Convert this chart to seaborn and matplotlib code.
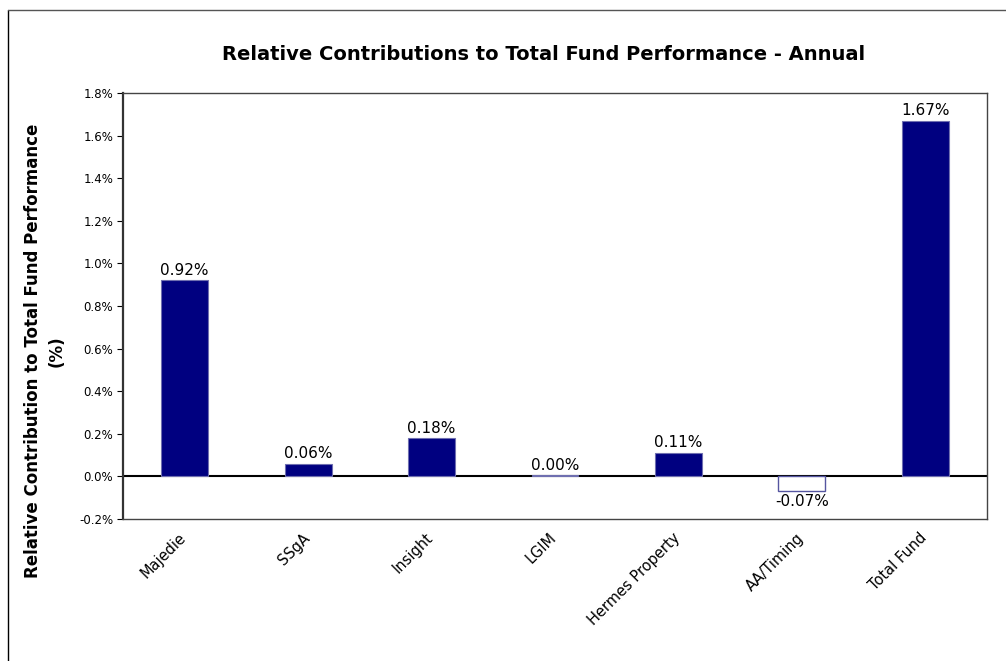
import numpy as np
import pandas as pd
import matplotlib
matplotlib.use("Agg")
import matplotlib.pyplot as plt
import matplotlib.transforms as mtransforms
import seaborn as sns
from matplotlib.lines import Line2D

managers = ["Majedie", "SSgA", "Insight", "LGIM", "Hermes Property", "AA/Timing", "Total Fund"]
contrib = [0.92, 0.06, 0.18, 0.0045, 0.11, -0.07, 1.67]
yticks = [-0.2, 0.0, 0.2, 0.4, 0.6, 0.8, 1.0, 1.2, 1.4, 1.6, 1.8]

dt = pd.DataFrame({"manager": managers, "contrib": contrib})

sns.set_style("white")
plt.rcParams["font.family"] = ["DejaVu Sans"]
plt.rcParams["text.color"] = "black"
plt.rcParams["axes.labelcolor"] = "black"
plt.rcParams["xtick.color"] = "black"
plt.rcParams["ytick.color"] = "black"

fig = plt.figure(figsize=(10.06, 6.61), dpi=100)
ax = fig.add_axes([123/1006, 1-519/661, 864/1006, 426/661])

sns.barplot(data=dt, x="manager", y="contrib", color="#000080", width=0.38,
            saturation=1, ax=ax, edgecolor="#6f6fb0", linewidth=0.8, zorder=3)

# negative bar is drawn hollow
for p, v in zip(ax.patches, contrib):
    if v < 0:
        p.set_facecolor("white")
        p.set_edgecolor("#5555a0")
        p.set_linewidth(1.0)

for i, v in enumerate(contrib):
    if v >= 0:
        ax.text(i, v + 0.012, f"{v:.2f}%", ha="center", va="bottom", fontsize=11)
    else:
        ax.text(i, v - 0.012, f"{v:.2f}%", ha="center", va="top", fontsize=11)

ax.axhline(0, color="black", linewidth=1.5, zorder=2)
ax.set_ylim(-0.2, 1.8)
ax.set_xlim(-0.5, len(managers) - 0.5)
ax.set_yticks(yticks)
ax.set_yticklabels([f"{t:.1f}%" for t in yticks], fontsize=8.5)
ax.tick_params(axis="y", direction="out", length=4, width=0.8, left=True, pad=3)
ax.tick_params(axis="x", length=0, pad=8)
shift = mtransforms.ScaledTranslation(-6/100, 0, fig.dpi_scale_trans)
for lab in ax.get_xticklabels():
    lab.set_rotation(45)
    lab.set_ha("right")
    lab.set_rotation_mode("anchor")
    lab.set_fontsize(10.5)
    lab.set_transform(lab.get_transform() + shift)

for s in ax.spines.values():
    s.set_color("#444444")
    s.set_linewidth(1.0)
ax.spines["left"].set_linewidth(1.6)
ax.spines["left"].set_color("#333333")

ax.set_xlabel("")
ax.set_ylabel("Relative Contribution to Total Fund Performance\n(%)", fontsize=12,
              fontweight="bold", linespacing=1.45)
ax.yaxis.set_label_coords(-0.066, 0.395)

fig.text(0.54, 1-54/661, "Relative Contributions to Total Fund Performance - Annual",
         ha="center", va="center", fontsize=14, fontweight="bold")

# outer chart frame (top and left only visible)
fig.add_artist(Line2D([8/1006, 8/1006], [0, 1-10/661], transform=fig.transFigure,
                      color="black", linewidth=1.0))
fig.add_artist(Line2D([8/1006, 1], [1-10/661, 1-10/661], transform=fig.transFigure,
                      color="#555555", linewidth=1.0))

fig.savefig("out.png", dpi=100)
